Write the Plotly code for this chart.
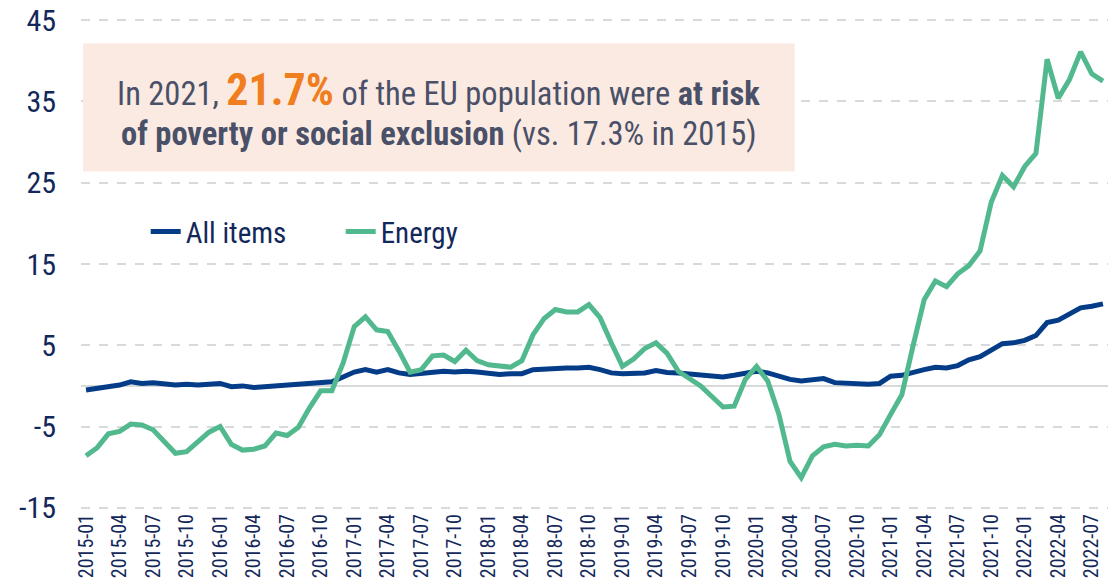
import plotly.graph_objects as go
import pandas as pd

months = [p.strftime("%Y-%m") for p in pd.period_range("2015-01", "2022-08", freq="M")]

all_items = [
    -0.5, -0.3, -0.1, 0.1, 0.5, 0.3, 0.4, 0.3, 0.1, 0.2, 0.1, 0.2,
    0.3, -0.1, 0.0, -0.2, -0.1, 0.0, 0.0, 0.2, 0.3, 0.4, 0.5, 1.1,
    1.7, 2.0, 1.7, 2.0, 1.6, 1.4, 1.5, 1.7, 1.8, 1.7, 1.8, 1.7,
    1.6, 1.4, 1.5, 1.5, 2.0, 2.1, 2.2, 2.2, 2.2, 2.3, 2.0, 1.6,
    1.5, 1.6, 1.6, 1.9, 1.65, 1.6, 1.45, 1.4, 1.2, 1.1, 1.3, 1.6,
    1.8, 1.6, 1.2, 0.8, 0.6, 0.8, 0.9, 0.4, 0.3, 0.3, 0.2, 0.3,
    1.2, 1.3, 1.7, 2.0, 2.3, 2.2, 2.5, 3.2, 3.6, 4.4, 5.2, 5.3,
    5.6, 6.2, 7.8, 8.1, 8.8, 9.6, 9.8, 10.1,
]

energy = [
    -8.6, -7.6, -5.9, -5.6, -4.7, -4.8, -5.4, -6.8, -8.3, -8.1, -6.9, -5.7,
    -5.0, -7.2, -7.9, -7.8, -7.4, -5.8, -6.1, -5.1, -2.7, -0.6, -0.6, 2.8,
    7.3, 8.5, 6.9, 6.7, 4.3, 1.7, 2.0, 3.7, 3.8, 3.0, 4.4, 3.1,
    2.6, 2.4, 2.3, 3.1, 6.3, 8.3, 9.4, 9.1, 9.1, 10.0, 8.4, 5.3,
    2.4, 3.3, 4.6, 5.3, 4.0, 1.8, 0.9, 0.0, -1.3, -2.6, -2.5, 0.8,
    2.4, 0.6, -3.5, -9.3, -11.3, -8.6, -7.5, -7.2, -7.4, -7.3, -7.4, -6.0,
    -3.5, -1.1, 4.9, 10.6, 12.9, 12.2, 13.8, 14.8, 16.6, 22.6, 25.9, 24.5,
    27.0, 28.6, 40.2, 35.4, 37.7, 41.1, 38.4, 37.5,
]

tick_labels = months[::3]
y_ticks = [-15, -5, 5, 15, 25, 35, 45]
y_tick_text = ["-15", "-5", "5", "15", "25", "35", "45"]

FONT = "Roboto Condensed, Liberation Sans Narrow, Arial Narrow, DejaVu Sans Condensed, sans-serif"
NAVY = "#13285A"
BLUE = "#053C88"
GREEN = "#52B98F"
GRID = "#D9D9D9"

fig = go.Figure()
fig.add_trace(go.Scatter(x=months, y=all_items, name="All items", mode="lines",
                         line=dict(color=BLUE, width=5)))
fig.add_trace(go.Scatter(x=months, y=energy, name="Energy", mode="lines",
                         line=dict(color=GREEN, width=5)))

# the page has an 8px body margin, margins are compensated accordingly
fig.update_layout(
    width=1117, height=585,
    margin=dict(l=73, r=17, t=11, b=84),
    plot_bgcolor="white", paper_bgcolor="white",
    font=dict(family=FONT, color=NAVY),
    showlegend=True,
    legend=dict(orientation="h", x=0.063, y=0.566, xanchor="left", yanchor="middle",
                font=dict(size=29, color=NAVY, family=FONT),
                bgcolor="rgba(0,0,0,0)", entrywidth=150, entrywidthmode="pixels"),
)

fig.update_xaxes(
    type="category", categoryorder="array", categoryarray=months,
    range=[-0.45, len(months) - 0.55],
    tickmode="array", tickvals=tick_labels, ticktext=tick_labels,
    tickangle=-90, tickfont=dict(size=20, color=NAVY, family=FONT),
    showgrid=False, showline=False, ticks="", zeroline=False, automargin=False,
    ticklabeloverflow="allow",
)
fig.update_yaxes(
    range=[-15.15, 45.15], tickmode="array", tickvals=y_ticks, ticktext=y_tick_text,
    tickfont=dict(size=30, color=NAVY, family=FONT),
    showgrid=True, gridcolor=GRID, griddash="dash", gridwidth=1.5,
    zeroline=True, zerolinecolor=GRID, zerolinewidth=2,
    showline=False, ticks="", ticklabelstandoff=24, automargin=False,
    ticklabeloverflow="allow",
)

fig.add_shape(type="rect", xref="paper", yref="paper",
              x0=0.002, x1=0.695, y0=0.689, y1=0.950,
              fillcolor="#FBEAE1", line=dict(width=0), layer="above")

TEXTC = "#4A5068"
fig.add_annotation(
    xref="paper", yref="paper", x=0.3485, y=0.855, xanchor="center", yanchor="middle",
    showarrow=False, align="center",
    font=dict(size=32.5, color=TEXTC, family=FONT),
    text=("In 2021, <b><span style='color:#F07D1E;font-size:44px'>21.7%</span></b> "
          "of the EU population were <b>at risk</b>"),
)
fig.add_annotation(
    xref="paper", yref="paper", x=0.3485, y=0.765, xanchor="center", yanchor="middle",
    showarrow=False, align="center",
    font=dict(size=32.5, color=TEXTC, family=FONT),
    text="<b>of poverty or social exclusion</b> (vs. 17.3% in 2015)",
)

fig.write_html("out.html")
